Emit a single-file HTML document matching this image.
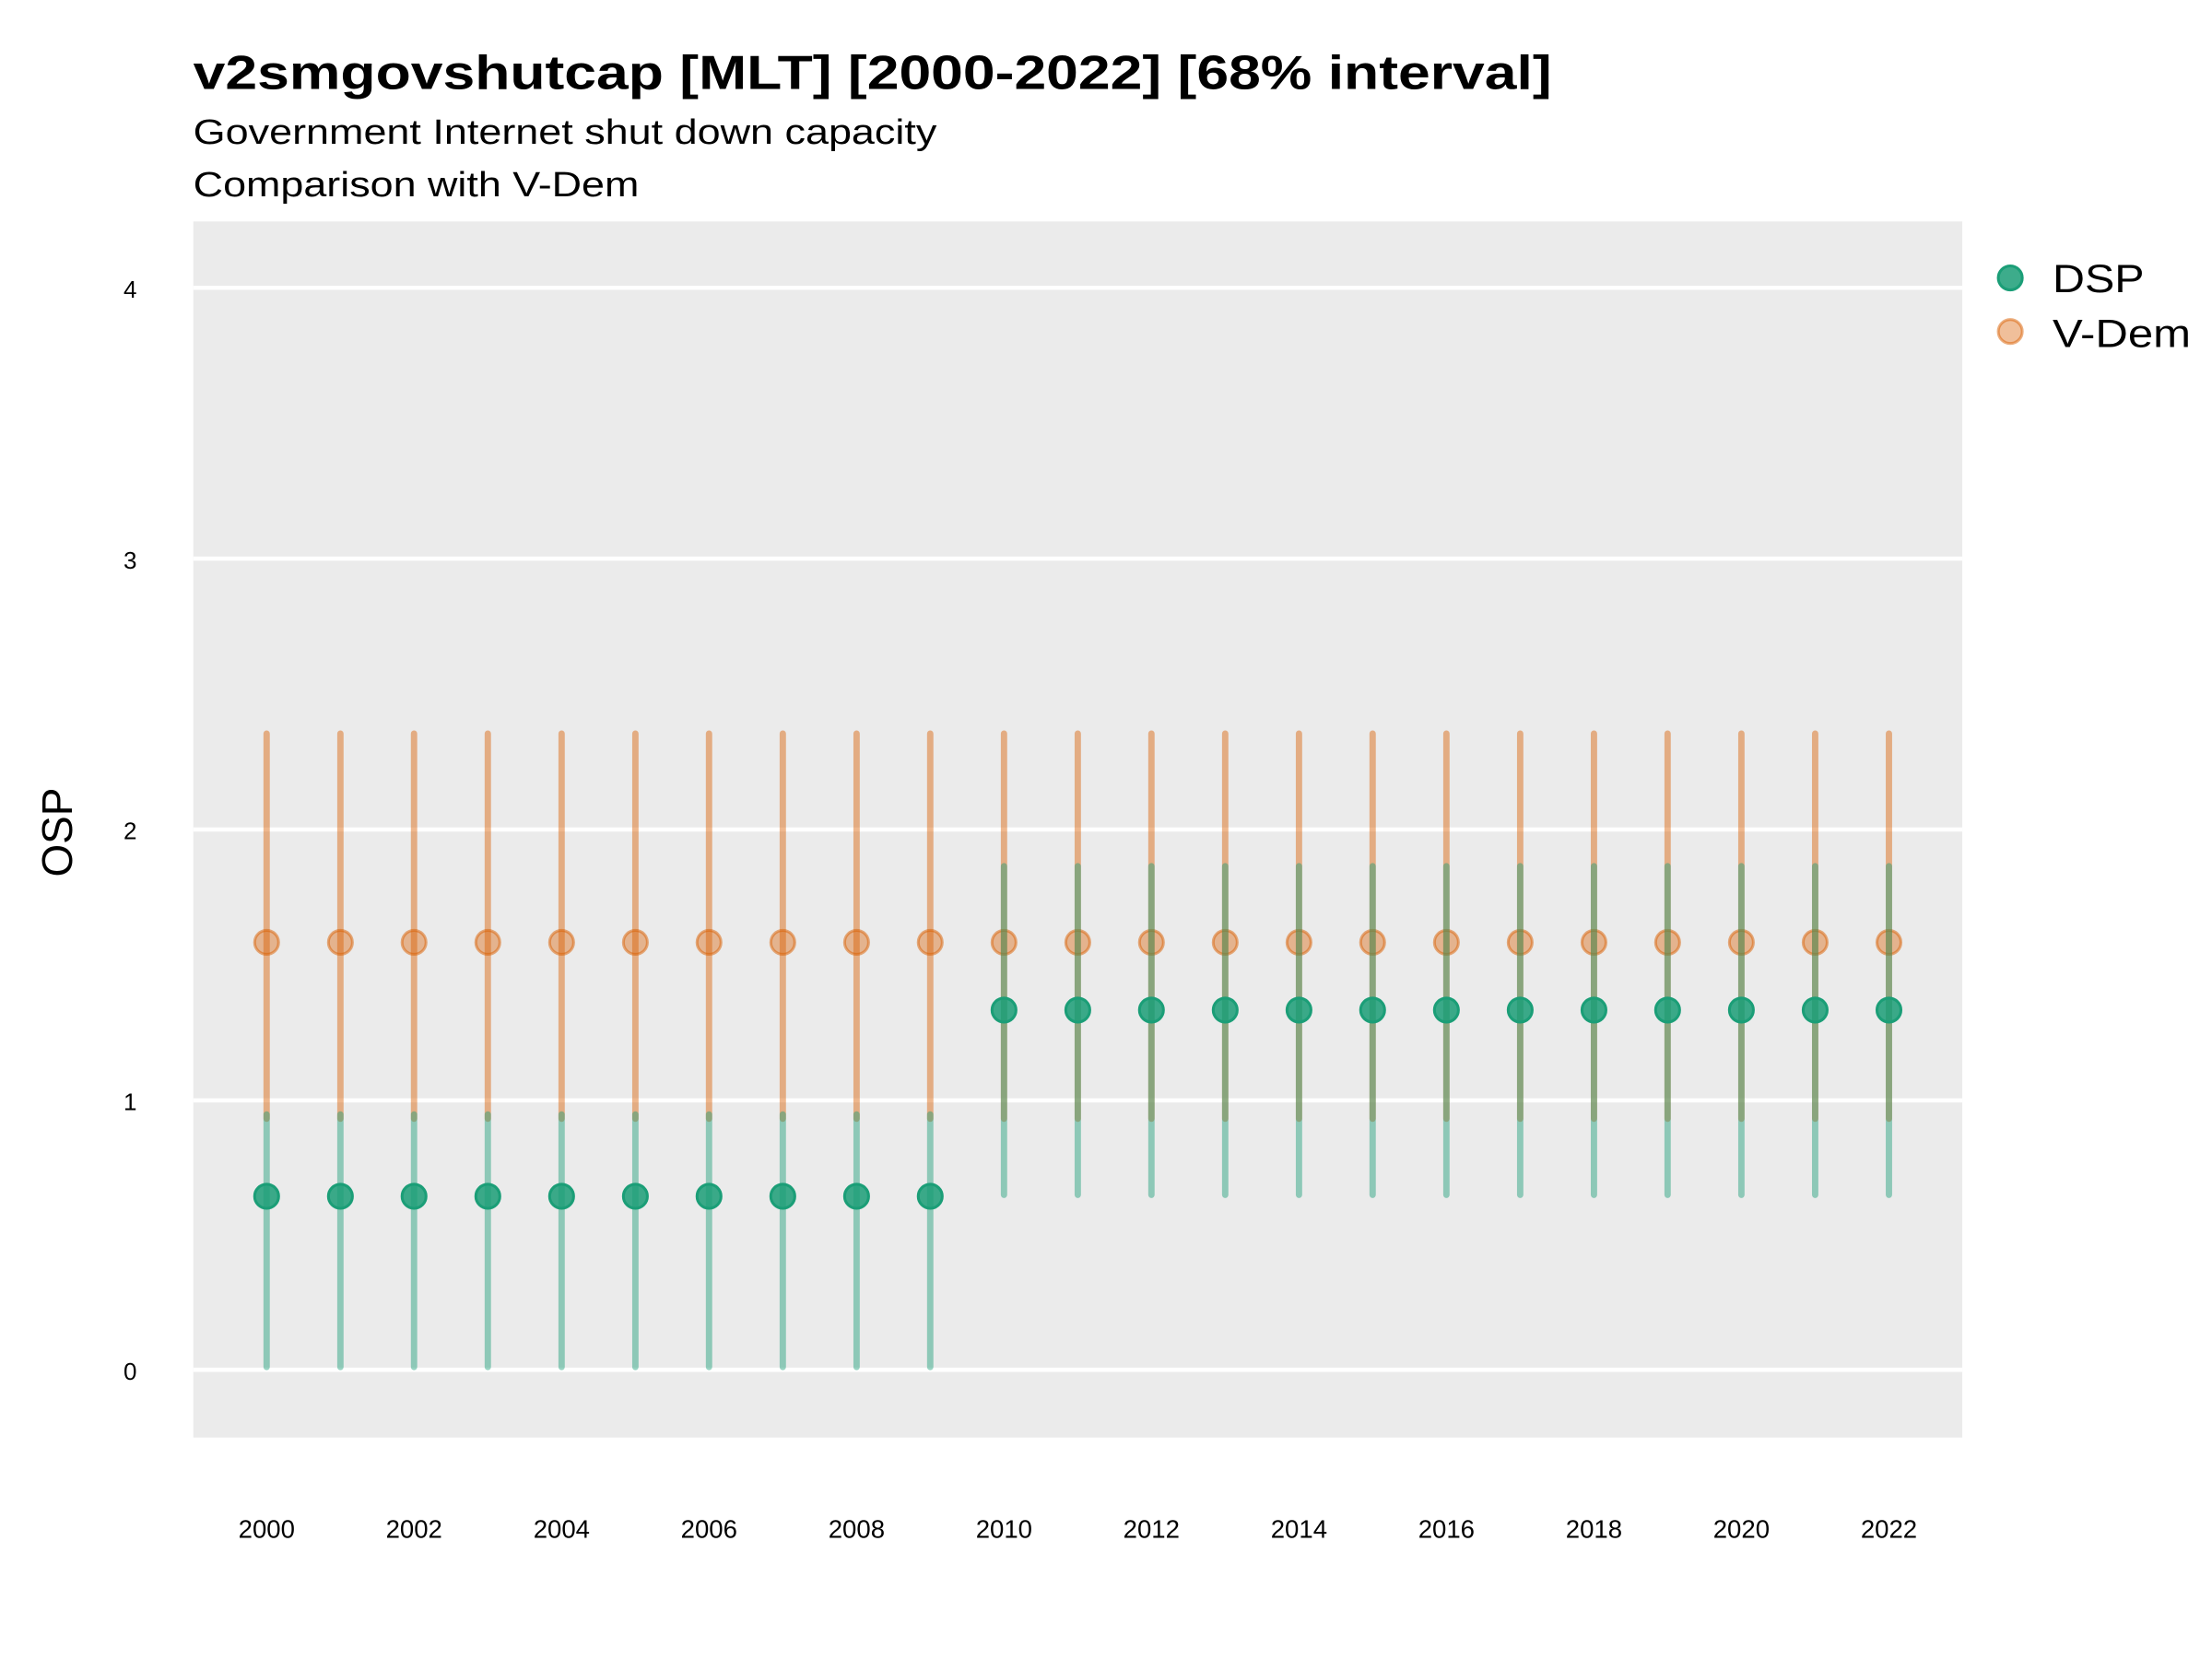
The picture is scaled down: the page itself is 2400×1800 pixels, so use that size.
<!DOCTYPE html>
<html><head><meta charset="utf-8"><style>html,body{margin:0;padding:0;background:#fff}svg{display:block}</style></head>
<body>
<svg width="2400" height="1800" viewBox="0 0 1568 1176" xmlns="http://www.w3.org/2000/svg" font-family="Liberation Sans, sans-serif">
<rect width="1568" height="1176" fill="#fff"/>
<text x="137" y="63" font-size="34" font-weight="bold" textLength="963" lengthAdjust="spacingAndGlyphs">v2smgovshutcap [MLT] [2000-2022] [68% interval]</text>
<text x="137" y="102" font-size="25" textLength="527" lengthAdjust="spacingAndGlyphs">Government Internet shut down capacity</text>
<text x="137" y="139" font-size="25" textLength="316" lengthAdjust="spacingAndGlyphs">Comparison with V-Dem</text>
<rect x="137" y="157" width="1254" height="862" fill="#ebebeb"/>
<g stroke="#fff" stroke-width="3">
<line x1="137" x2="1391" y1="204" y2="204"/><line x1="137" x2="1391" y1="396" y2="396"/><line x1="137" x2="1391" y1="588" y2="588"/><line x1="137" x2="1391" y1="780" y2="780"/><line x1="137" x2="1391" y1="971" y2="971"/>
</g>
<g font-size="17" text-anchor="end"><text x="97" y="211">4</text><text x="97" y="403">3</text><text x="97" y="595">2</text><text x="97" y="787">1</text><text x="97" y="978">0</text></g>
<text transform="translate(51,590) rotate(-90)" font-size="30" text-anchor="middle">OSP</text>
<g font-size="18" text-anchor="middle"><text x="189" y="1090">2000</text><text x="293.5" y="1090">2002</text><text x="398.1" y="1090">2004</text><text x="502.6" y="1090">2006</text><text x="607.2" y="1090">2008</text><text x="711.7" y="1090">2010</text><text x="816.2" y="1090">2012</text><text x="920.8" y="1090">2014</text><text x="1025.3" y="1090">2016</text><text x="1129.9" y="1090">2018</text><text x="1234.4" y="1090">2020</text><text x="1339" y="1090">2022</text></g>
<path stroke="#d95f02" stroke-opacity="0.45" stroke-width="4.5" stroke-linecap="round" fill="none" d="M189 520V793M241.3 520V793M293.5 520V793M345.8 520V793M398.1 520V793M450.4 520V793M502.6 520V793M554.9 520V793M607.2 520V793M659.4 520V793M711.7 520V793M764 520V793M816.2 520V793M868.5 520V793M920.8 520V793M973 520V793M1025.3 520V793M1077.6 520V793M1129.9 520V793M1182.1 520V793M1234.4 520V793M1286.7 520V793M1339 520V793"/>
<g fill="#d95f02" fill-opacity="0.4" stroke="#d95f02" stroke-opacity="0.5" stroke-width="2">
<circle cx="189" cy="668" r="8.5"/><circle cx="241.3" cy="668" r="8.5"/><circle cx="293.5" cy="668" r="8.5"/><circle cx="345.8" cy="668" r="8.5"/><circle cx="398.1" cy="668" r="8.5"/><circle cx="450.4" cy="668" r="8.5"/><circle cx="502.6" cy="668" r="8.5"/><circle cx="554.9" cy="668" r="8.5"/><circle cx="607.2" cy="668" r="8.5"/><circle cx="659.4" cy="668" r="8.5"/><circle cx="711.7" cy="668" r="8.5"/><circle cx="764" cy="668" r="8.5"/><circle cx="816.2" cy="668" r="8.5"/><circle cx="868.5" cy="668" r="8.5"/><circle cx="920.8" cy="668" r="8.5"/><circle cx="973" cy="668" r="8.5"/><circle cx="1025.3" cy="668" r="8.5"/><circle cx="1077.6" cy="668" r="8.5"/><circle cx="1129.9" cy="668" r="8.5"/><circle cx="1182.1" cy="668" r="8.5"/><circle cx="1234.4" cy="668" r="8.5"/><circle cx="1286.7" cy="668" r="8.5"/><circle cx="1339" cy="668" r="8.5"/>
</g>
<path stroke="#1b9e77" stroke-opacity="0.45" stroke-width="4.5" stroke-linecap="round" fill="none" d="M189 969V790M241.3 969V790M293.5 969V790M345.8 969V790M398.1 969V790M450.4 969V790M502.6 969V790M554.9 969V790M607.2 969V790M659.4 969V790M711.7 847V614M764 847V614M816.2 847V614M868.5 847V614M920.8 847V614M973 847V614M1025.3 847V614M1077.6 847V614M1129.9 847V614M1182.1 847V614M1234.4 847V614M1286.7 847V614M1339 847V614"/>
<g fill="#1b9e77" fill-opacity="0.85" stroke="#1b9e77" stroke-width="2">
<circle cx="189" cy="848" r="8.5"/><circle cx="241.3" cy="848" r="8.5"/><circle cx="293.5" cy="848" r="8.5"/><circle cx="345.8" cy="848" r="8.5"/><circle cx="398.1" cy="848" r="8.5"/><circle cx="450.4" cy="848" r="8.5"/><circle cx="502.6" cy="848" r="8.5"/><circle cx="554.9" cy="848" r="8.5"/><circle cx="607.2" cy="848" r="8.5"/><circle cx="659.4" cy="848" r="8.5"/><circle cx="711.7" cy="716" r="8.5"/><circle cx="764" cy="716" r="8.5"/><circle cx="816.2" cy="716" r="8.5"/><circle cx="868.5" cy="716" r="8.5"/><circle cx="920.8" cy="716" r="8.5"/><circle cx="973" cy="716" r="8.5"/><circle cx="1025.3" cy="716" r="8.5"/><circle cx="1077.6" cy="716" r="8.5"/><circle cx="1129.9" cy="716" r="8.5"/><circle cx="1182.1" cy="716" r="8.5"/><circle cx="1234.4" cy="716" r="8.5"/><circle cx="1286.7" cy="716" r="8.5"/><circle cx="1339" cy="716" r="8.5"/>
</g>
<circle cx="1425" cy="197" r="8.5" fill="#1b9e77" fill-opacity="0.85" stroke="#1b9e77" stroke-width="2"/>
<circle cx="1425" cy="235" r="8.5" fill="#d95f02" fill-opacity="0.4" stroke="#d95f02" stroke-opacity="0.5" stroke-width="2"/>
<text x="1455" y="207" font-size="28" textLength="65" lengthAdjust="spacingAndGlyphs">DSP</text>
<text x="1455" y="246" font-size="28" textLength="98" lengthAdjust="spacingAndGlyphs">V-Dem</text>
</svg>
</body></html>
